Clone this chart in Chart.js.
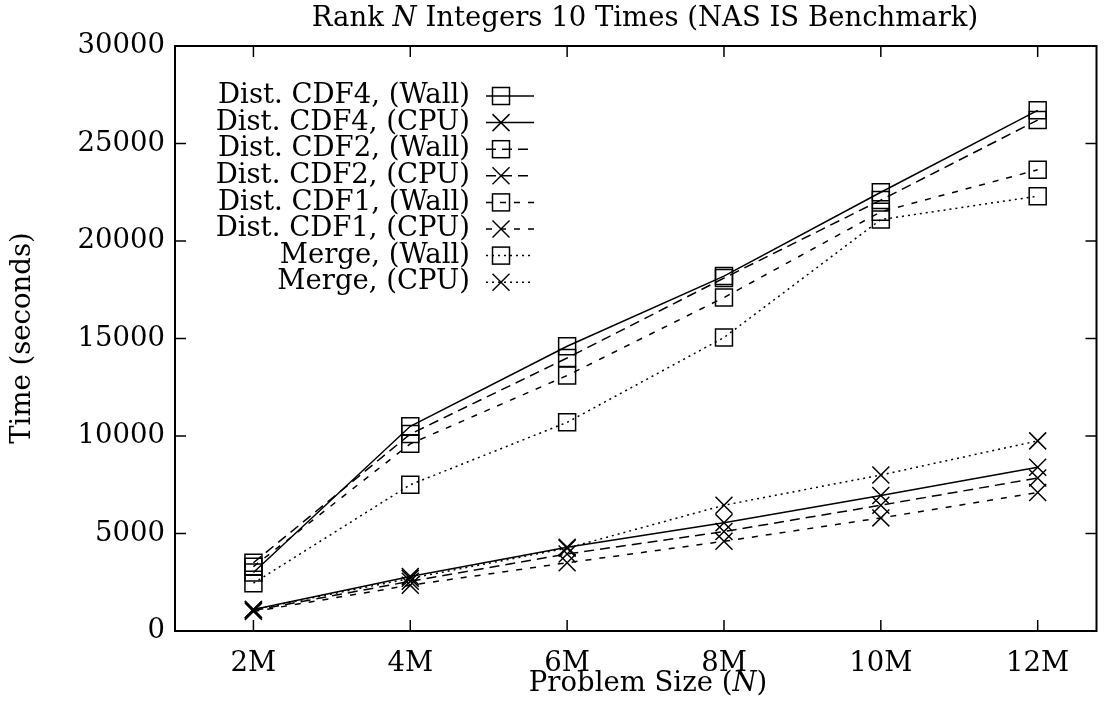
<!DOCTYPE html>
<html>
<head>
<meta charset="utf-8">
<script src="https://cdn.jsdelivr.net/npm/chart.js@4/dist/chart.umd.min.js"></script>
<style>
  html, body { margin: 0; padding: 0; background: #fff; }
  canvas { display: block; }
</style>
</head>
<body>
<canvas id="grafico" width="1110" height="701"></canvas>
<script>
// problem size in millions of integers
const sizes = [2, 4, 6, 8, 10, 12];
const sizeLabels = ["2M", "4M", "6M", "8M", "10M", "12M"];
const yTicks = [0, 5000, 10000, 15000, 20000, 25000, 30000];

// times in seconds
const cdf4Wall = [3000, 10500, 14600, 18200, 22500, 26700];
const cdf4Cpu = [1100, 2800, 4300, 5550, 6950, 8400];
const cdf2Wall = [3500, 10100, 14000, 18100, 22100, 26200];
const cdf2Cpu = [1050, 2550, 3950, 5100, 6450, 7850];
const cdf1Wall = [3300, 9600, 13100, 17100, 21500, 23650];
const cdf1Cpu = [1000, 2350, 3500, 4600, 5800, 7100];
const mergeWall = [2450, 7500, 10700, 15050, 21100, 22300];
const mergeCpu = [1100, 2700, 4250, 6450, 8000, 9750];

const serie = [
  { label: "Dist. CDF4, (Wall)", data: cdf4Wall, dash: [], point: "rect" },
  { label: "Dist. CDF4, (CPU)", data: cdf4Cpu, dash: [], point: "crossRot" },
  { label: "Dist. CDF2, (Wall)", data: cdf2Wall, dash: [10, 6], point: "rect" },
  { label: "Dist. CDF2, (CPU)", data: cdf2Cpu, dash: [10, 6], point: "crossRot" },
  { label: "Dist. CDF1, (Wall)", data: cdf1Wall, dash: [6, 8], point: "rect" },
  { label: "Dist. CDF1, (CPU)", data: cdf1Cpu, dash: [6, 8], point: "crossRot" },
  { label: "Merge, (Wall)", data: mergeWall, dash: [2, 4], point: "rect" },
  { label: "Merge, (CPU)", data: mergeCpu, dash: [2, 4], point: "crossRot" },
];

const tam = 27.5;
const fuente = tam + 'px "DejaVu Serif"';
const fuenteItalica = "italic " + tam + 'px "DejaVu Serif"';

function textoMixto(ctx, partes, cx, cy) {
  let total = 0;
  partes.forEach(([t, it]) => {
    ctx.font = it ? fuenteItalica : fuente;
    total += ctx.measureText(t).width;
  });
  let x = cx - total / 2;
  ctx.textAlign = "left";
  ctx.textBaseline = "middle";
  partes.forEach(([t, it]) => {
    ctx.font = it ? fuenteItalica : fuente;
    ctx.fillText(t, x, cy);
    x += ctx.measureText(t).width;
  });
}

function linea(ctx, x1, y1, x2, y2) {
  ctx.beginPath();
  ctx.moveTo(x1, y1);
  ctx.lineTo(x2, y2);
  ctx.stroke();
}

const decoracion = {
  id: "decoracion",
  afterDraw(chart) {
    const ctx = chart.ctx;
    const a = chart.chartArea;
    const x = chart.scales.x;
    const y = chart.scales.y;
    ctx.save();
    ctx.strokeStyle = "#000";
    ctx.fillStyle = "#000";
    ctx.setLineDash([]);
    ctx.lineWidth = 2;
    ctx.strokeRect(a.left, a.top, a.right - a.left, a.bottom - a.top);
    ctx.lineWidth = 1.5;
    yTicks.forEach((v) => {
      const py = y.getPixelForValue(v);
      linea(ctx, a.left, py, a.left + 11, py);
      linea(ctx, a.right - 11, py, a.right, py);
    });
    sizes.forEach((v) => {
      const px = x.getPixelForValue(v);
      linea(ctx, px, a.bottom, px, a.bottom - 11);
      linea(ctx, px, a.top, px, a.top + 11);
    });

    textoMixto(ctx, [["Rank ", false], ["N", true], [" Integers 10 Times (NAS IS Benchmark)", false]], 645, 19);
    textoMixto(ctx, [["Problem Size (", false], ["N", true], [")", false]], 648, 684);

    ctx.save();
    ctx.translate(23, 338);
    ctx.rotate(-Math.PI / 2);
    ctx.font = fuente;
    ctx.textAlign = "center";
    ctx.textBaseline = "middle";
    ctx.fillText("Time (seconds)", 0, 0);
    ctx.restore();

    // legend: text on the left, sample on the right
    chart.data.datasets.forEach((ds, i) => {
      const py = 96 + i * 26.6;
      ctx.font = fuente;
      ctx.textAlign = "right";
      ctx.textBaseline = "middle";
      ctx.fillText(ds.label, 470, py);
      ctx.lineWidth = 1.5;
      ctx.setLineDash(ds.borderDash);
      linea(ctx, 486, py, 534, py);
      ctx.setLineDash([]);
      const mx = 501;
      if (ds.pointStyle === "rect") {
        ctx.strokeRect(mx - 8.5, py - 8.5, 17, 17);
      } else {
        linea(ctx, mx - 8.5, py - 8.5, mx + 8.5, py + 8.5);
        linea(ctx, mx - 8.5, py + 8.5, mx + 8.5, py - 8.5);
      }
    });
    ctx.restore();
  },
};

const ctx = document.getElementById("grafico").getContext("2d");
window.miGrafico = new Chart(ctx, {
  type: "line",
  data: {
    datasets: serie.map((s) => ({
      label: s.label,
      data: s.data.map((v, i) => ({ x: sizes[i], y: v })),
      borderColor: "#000",
      backgroundColor: "rgba(0,0,0,0)",
      borderWidth: 1.5,
      borderDash: s.dash,
      pointStyle: s.point,
      pointRadius: 12,
      pointBorderWidth: 1.5,
      pointBorderColor: "#000",
      pointBackgroundColor: "rgba(0,0,0,0)",
      fill: false,
      tension: 0,
    })),
  },
  options: {
    responsive: false,
    animation: false,
    devicePixelRatio: 1,
    layout: { padding: { top: 46, right: 13, left: 0, bottom: 0 } },
    plugins: {
      legend: { display: false },
      title: { display: false },
      tooltip: { enabled: false },
    },
    scales: {
      x: {
        type: "linear",
        min: 1,
        max: 12.75,
        grid: { display: false },
        border: { display: false },
        afterBuildTicks: (scale) => {
          scale.ticks = sizes.map((v) => ({ value: v }));
        },
        afterFit: (scale) => {
          scale.height = 70;
        },
        ticks: {
          color: "#000",
          font: { family: "DejaVu Serif", size: tam },
          padding: 8,
          maxRotation: 0,
          callback: (v) => sizeLabels[sizes.indexOf(v)],
        },
      },
      y: {
        min: 0,
        max: 30000,
        grid: { display: false },
        border: { display: false },
        afterBuildTicks: (scale) => {
          scale.ticks = yTicks.map((v) => ({ value: v }));
        },
        afterFit: (scale) => {
          scale.width = 175;
        },
        ticks: {
          color: "#000",
          font: { family: "DejaVu Serif", size: tam },
          padding: 2,
          callback: (v) => String(v),
        },
      },
    },
  },
  plugins: [decoracion],
});
</script>
</body>
</html>
